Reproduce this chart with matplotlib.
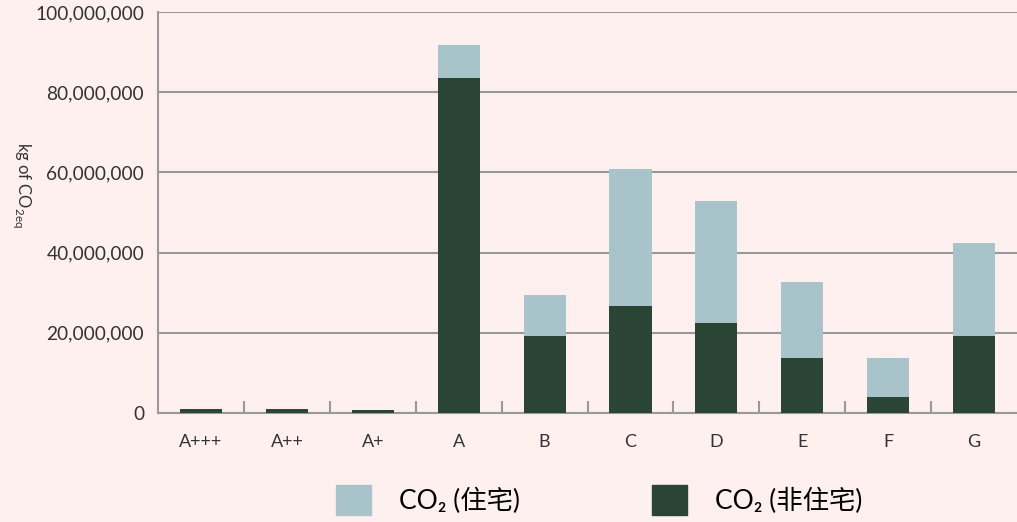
import matplotlib
matplotlib.use("Agg")
import matplotlib.pyplot as plt
from matplotlib.patches import Patch
from matplotlib.ticker import FuncFormatter, MultipleLocator

# Energy label classes and emissions (kg CO2eq)
labels = ["A+++", "A++", "A+", "A", "B", "C", "D", "E", "F", "G"]
non_residential = [900000, 900000, 700000, 83500000, 19300000, 26800000,
                   22500000, 13800000, 4100000, 19300000]
residential = [50000, 50000, 100000, 8300000, 10200000, 34000000,
               30400000, 18900000, 9600000, 23100000]

legend_labels = ["CO₂ (住宅)", "CO₂ (非住宅)"]

bg = "#fff0f0"
light = "#a9c3cb"
dark = "#2b4535"
grey = "#999999"

plt.rcParams["font.family"] = ["Lato", "Noto Sans CJK SC", "DejaVu Sans"]
plt.rcParams["mathtext.fontset"] = "custom"
plt.rcParams["mathtext.rm"] = "Lato"

fig = plt.figure(figsize=(10.17, 5.22), dpi=100, facecolor=bg)
ax = fig.add_axes([0.1554, 0.2088, 0.8446, 0.7682], facecolor=bg)

x = list(range(len(labels)))
ax.bar(x, non_residential, width=0.49, color=dark, zorder=3)
ax.bar(x, residential, width=0.49, bottom=non_residential, color=light, zorder=3)

ax.set_xlim(-0.5, len(labels) - 0.5)
ax.set_ylim(0, 100000000)
ax.yaxis.set_major_locator(MultipleLocator(20000000))
ax.yaxis.set_major_formatter(FuncFormatter(lambda v, p: f"{int(v):,}"))
ax.grid(axis="y", color=grey, linewidth=1.5, zorder=0)

ax.set_xticks(x)
ax.set_xticklabels(labels, fontsize=13, color="#333333")
ax.set_xticks([i + 0.5 for i in x[:-1]], minor=True)
ax.tick_params(axis="x", which="major", length=0, pad=15)
ax.tick_params(axis="x", which="minor", direction="in", length=9,
               width=1.5, color=grey)
ax.tick_params(axis="y", length=0, pad=10, labelsize=13.8, labelcolor="#333333")

for side in ["top", "right"]:
    ax.spines[side].set_visible(False)
for side in ["left", "bottom"]:
    ax.spines[side].set_color(grey)
    ax.spines[side].set_linewidth(1.5)

fig.text(0.022, 0.645, r"kg of CO$_{\mathrm{2eq}}$", rotation=-90,
         ha="center", va="center", fontsize=12, color="#333333")

handles = [Patch(color=light), Patch(color=dark)]
fig.legend(handles, legend_labels, loc="center", ncol=2,
           bbox_to_anchor=(0.589, 0.042), frameon=False, fontsize=19,
           handlelength=1.33, handleheight=1.33, handletextpad=1.06,
           columnspacing=5.0)

fig.savefig("out.png", dpi=100, facecolor=bg)
